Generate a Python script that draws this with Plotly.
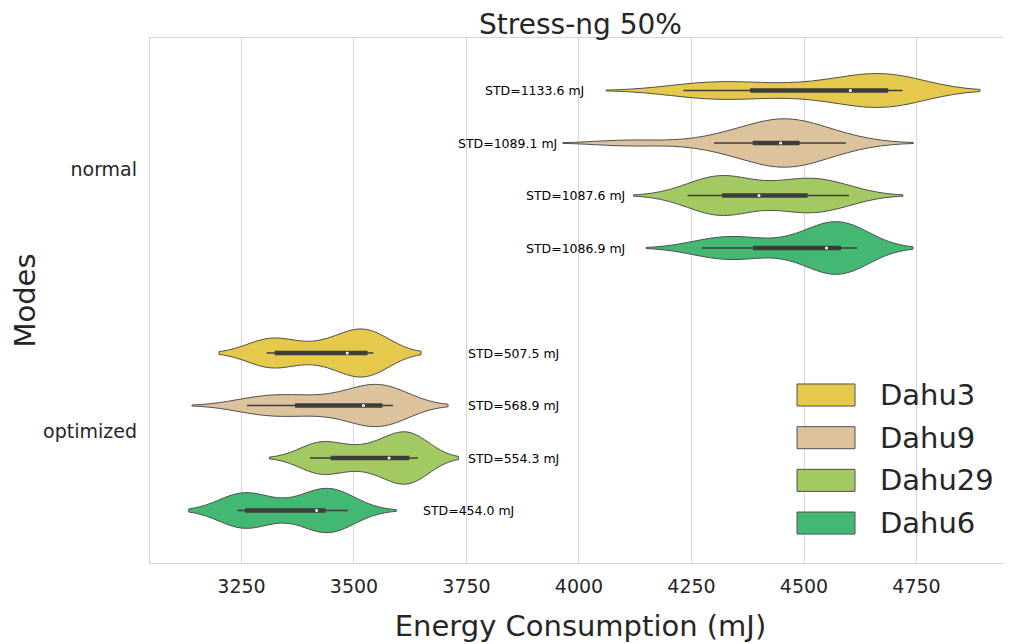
import numpy as np
import plotly.graph_objects as go

# ---------------- data ----------------
MODES = ["normal", "optimized"]
SERVERS = ["Dahu3", "Dahu9", "Dahu29", "Dahu6"]

# energy consumption samples (mJ)
normal_dahu3 = [4232, 4290, 4330, 4380, 4470, 4560, 4603, 4630, 4660, 4687, 4700, 4712, 4719]
normal_dahu9 = [4114, 4300, 4360, 4386, 4425, 4440, 4448, 4458, 4470, 4490, 4510, 4540, 4593]
normal_dahu29 = [4241, 4285, 4305, 4318, 4330, 4350, 4400, 4460, 4490, 4508, 4530, 4560, 4600]
normal_dahu6 = [4273, 4320, 4350, 4387, 4480, 4530, 4550, 4560, 4570, 4582, 4595, 4605, 4618]

optimized_dahu3 = [3306, 3310, 3318, 3324, 3395, 3450, 3485, 3500, 3515, 3530, 3535, 3540, 3543]
optimized_dahu9 = [3262, 3300, 3340, 3369, 3420, 3480, 3521, 3530, 3545, 3563, 3570, 3580, 3587]
optimized_dahu29 = [3402, 3420, 3435, 3448, 3500, 3540, 3578, 3590, 3605, 3623, 3630, 3636, 3642]
optimized_dahu6 = [3241, 3244, 3248, 3258, 3275, 3330, 3417, 3425, 3432, 3437, 3445, 3465, 3486]

SAMPLES = {
    "normal": [normal_dahu3, normal_dahu9, normal_dahu29, normal_dahu6],
    "optimized": [optimized_dahu3, optimized_dahu9, optimized_dahu29, optimized_dahu6],
}

STD_NORMAL = [1133.6, 1089.1, 1087.6, 1086.9]
STD_OPTIMIZED = [507.5, 568.9, 554.3, 454.0]
STD_VALUES = {"normal": STD_NORMAL, "optimized": STD_OPTIMIZED}

X_TICKS = [3250, 3500, 3750, 4000, 4250, 4500, 4750]

# ---------------- style ----------------
COLORS = ["#e4c94a", "#dcc39c", "#a3c963", "#42b873"]
BANDWIDTHS = {"normal": [86, 75, 60, 62], "optimized": [53, 61, 45, 54]}
LABEL_X = {"normal": [3787, 3727, 3878, 3878], "optimized": [3749, 3749, 3749, 3649]}
HUE_OFFSETS = [-0.3, -0.1, 0.1, 0.3]
HALF_WIDTH = 0.1
EDGE = "#4f4f4f"
BOX = "#3d3d3d"
TEXT = "#262626"
FRAME = "#d6d6d6"
FONT = "DejaVu Sans"

# the page body adds an 8px margin around the figure
FIG_W, FIG_H = 1003, 636


def kde_peak(data, bw):
    d = np.asarray(data, float)
    grid = np.linspace(d.min() - 2 * bw, d.max() + 2 * bw, 400)
    dens = np.exp(-0.5 * ((grid[:, None] - d[None, :]) / bw) ** 2).sum(1)
    dens /= len(d) * bw * np.sqrt(2 * np.pi)
    return dens.max()


fig = go.Figure()
annotations = []

for mi, mode in enumerate(MODES):
    peaks = [kde_peak(s, b) for s, b in zip(SAMPLES[mode], BANDWIDTHS[mode])]
    pmax = max(peaks)
    for si, server in enumerate(SERVERS):
        data = np.asarray(SAMPLES[mode][si], float)
        pos = mi + HUE_OFFSETS[si]
        width = 2 * HALF_WIDTH * peaks[si] / pmax
        fig.add_trace(go.Violin(
            x=data, y0=pos, orientation="h", name=server,
            bandwidth=BANDWIDTHS[mode][si], spanmode="soft",
            scalemode="width", width=width, side="both",
            points=False, box_visible=False, meanline_visible=False,
            fillcolor=COLORS[si], line=dict(color=EDGE, width=1),
            opacity=1, showlegend=False, hoverinfo="skip",
        ))
        q1, med, q3 = np.percentile(data, [25, 50, 75])
        iqr = q3 - q1
        lo = data[data >= q1 - 1.5 * iqr].min()
        hi = data[data <= q3 + 1.5 * iqr].max()
        fig.add_trace(go.Scatter(x=[lo, hi], y=[pos, pos], mode="lines",
                                 line=dict(color=BOX, width=1.3),
                                 showlegend=False, hoverinfo="skip"))
        fig.add_trace(go.Scatter(x=[q1, q3], y=[pos, pos], mode="lines",
                                 line=dict(color=BOX, width=4.5),
                                 showlegend=False, hoverinfo="skip"))
        fig.add_trace(go.Scatter(x=[med], y=[pos], mode="markers",
                                 marker=dict(color="white", size=3, line=dict(width=0)),
                                 showlegend=False, hoverinfo="skip"))
        annotations.append(dict(
            x=LABEL_X[mode][si], y=pos, xref="x", yref="y",
            text=f"STD={STD_VALUES[mode][si]:.1f} mJ", showarrow=False,
            xanchor="left", yanchor="middle",
            font=dict(family=FONT, size=12.5, color="black"),
        ))

# legend drawn as patches
shapes = []
leg_top = 0.341
leg_step = 0.0813
leg_h = 0.042
for si, server in enumerate(SERVERS):
    y1 = leg_top - si * leg_step
    shapes.append(dict(type="rect", xref="paper", yref="paper",
                       x0=0.7515, x1=0.8188, y0=y1 - leg_h, y1=y1,
                       fillcolor=COLORS[si], line=dict(color=EDGE, width=1)))
    annotations.append(dict(x=0.8455, y=y1 - leg_h / 2, xref="paper", yref="paper",
                            text=server, showarrow=False, xanchor="left", yanchor="middle",
                            font=dict(family=FONT, size=29, color=TEXT)))

fig.update_layout(
    width=FIG_W, height=FIG_H,
    margin=dict(l=142, r=0, t=30, b=81, autoexpand=False),
    paper_bgcolor="white", plot_bgcolor="white",
    title=dict(text="Stress-ng 50%", x=0.5, xref="paper", y=1 - 16 / FIG_H,
               yanchor="middle", xanchor="center",
               font=dict(family=FONT, size=28, color=TEXT)),
    font=dict(family=FONT, color=TEXT),
    annotations=annotations, shapes=shapes, showlegend=False,
)
fig.update_xaxes(
    range=[3046.7, 4960], tickvals=X_TICKS, ticktext=[str(t) for t in X_TICKS],
    showgrid=True, gridcolor="#d6d6d6", gridwidth=1, zeroline=False,
    showline=True, mirror=True, linecolor=FRAME, linewidth=1.3,
    ticks="outside", ticklen=6, tickcolor="rgba(0,0,0,0)",
    tickfont=dict(family=FONT, size=19, color=TEXT),
    title=dict(text="Energy Consumption (mJ)", standoff=19,
               font=dict(family=FONT, size=29, color=TEXT)),
)
fig.update_yaxes(
    range=[1.5, -0.5], tickvals=[0, 1], ticktext=MODES,
    showgrid=False, zeroline=False,
    showline=True, mirror=False, linecolor=FRAME, linewidth=1.3,
    ticks="outside", ticklen=8, tickcolor="rgba(0,0,0,0)",
    tickfont=dict(family=FONT, size=19, color=TEXT),
    title=dict(text="Modes", standoff=6,
               font=dict(family=FONT, size=29, color=TEXT)),
)

fig.write_html("out.html")
